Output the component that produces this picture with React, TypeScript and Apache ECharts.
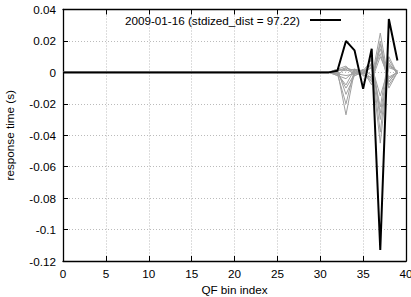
import React, { useEffect, useRef } from "react";
import * as echarts from "echarts";

const xIndex: number[] = Array.from({ length: 40 }, (_, i) => i);
const legendName = "2009-01-16 (stdized_dist = 97.22)";
// values for bins 31..39 (earlier bins are 0)
const blackTail = [0, 0.001, 0.02, 0.014, -0.0105, 0.015, -0.113, 0.034, 0.0076];
const grayTails: number[][] = [
  [0, 0.001, -0.027, 0.001, 0, 0.003, -0.045, 0.005, 0],
  [0, -0.001, -0.02, 0.002, 0.001, -0.004, 0.025, -0.006, 0.001],
  [0, 0.002, -0.014, -0.002, 0, 0.006, -0.038, 0.008, -0.001],
  [0, -0.002, 0.003, 0.001, -0.001, -0.006, 0.02, -0.008, 0],
  [0, 0.001, 0.002, -0.001, 0.001, 0.008, -0.03, 0.004, 0.001],
  [0, -0.001, -0.008, 0.002, -0.002, -0.003, 0.015, -0.004, 0],
  [0, 0.002, 0.004, -0.002, 0, 0.005, -0.022, 0.01, -0.001],
  [0, -0.002, -0.004, 0.001, 0.001, -0.008, 0.018, -0.01, 0],
  [0, 0.001, 0.003, 0, -0.001, 0.004, -0.015, 0.003, 0.001],
  [0, -0.001, -0.002, -0.001, 0, -0.005, 0.01, -0.003, 0],
  [0, 0.002, 0.001, 0.002, -0.001, 0.009, -0.026, 0.006, -0.001],
  [0, 0, -0.01, -0.001, 0.002, -0.002, 0.012, -0.006, 0.001],
];

function build(tail: number[]): number[][] {
  return xIndex.map((x) => [x, x < 31 ? 0 : tail[x - 31]]);
}

const FONT = "Liberation Sans, Arial, Helvetica, sans-serif";
const FS = 11.7;

export default function App() {
  const ref = useRef<HTMLDivElement>(null);
  useEffect(() => {
    if (!ref.current) return;
    const chart = echarts.init(ref.current, undefined, { renderer: "svg" });
    const grid = { left: 63, right: 5, top: 9.5, bottom: 36, containLabel: false, outerBoundsMode: "none" };
    const gridLine = { show: true, lineStyle: { color: "#bbb", type: [1, 2] as any, width: 1 } };
    chart.setOption({
      animation: false,
      backgroundColor: "#fff",
      grid,
      legend: {
        data: [legendName],
        right: 65,
        top: 9,
        align: "right",
        icon: "rect",
        itemWidth: 31,
        itemHeight: 2,
        textStyle: { fontFamily: FONT, fontSize: FS, color: "#000", padding: [0, 5, 0, 0] },
      },
      xAxis: [
        {
          type: "value",
          min: 0,
          max: 40,
          interval: 5,
          name: "QF bin index",
          nameLocation: "middle",
          nameGap: 22,
          nameTextStyle: { fontFamily: FONT, fontSize: FS, color: "#000" },
          axisLine: { show: true, onZero: false, lineStyle: { color: "#000", width: 1.3 } },
          axisTick: { show: true, inside: true, length: 5, lineStyle: { color: "#000" } },
          axisLabel: { fontFamily: FONT, fontSize: FS, color: "#000", margin: 6 },
          splitLine: gridLine,
        },
        {
          type: "value",
          position: "top",
          min: 0,
          max: 40,
          interval: 5,
          axisLine: { show: true, onZero: false, lineStyle: { color: "#000", width: 1.3 } },
          axisTick: { show: true, inside: true, length: 5, lineStyle: { color: "#000" } },
          axisLabel: { show: false },
          splitLine: { show: false },
        },
      ],
      yAxis: [
        {
          type: "value",
          min: -0.12,
          max: 0.04,
          interval: 0.02,
          name: "response time (s)",
          nameLocation: "middle",
          nameGap: 48,
          nameTextStyle: { fontFamily: FONT, fontSize: FS, color: "#000" },
          axisLine: { show: true, onZero: false, lineStyle: { color: "#000", width: 1.3 } },
          axisTick: { show: true, inside: true, length: 5, lineStyle: { color: "#000" } },
          axisLabel: {
            fontFamily: FONT,
            fontSize: FS,
            color: "#000",
            margin: 7,
            formatter: (v: number) => String(Number(v.toFixed(2))),
          },
          splitLine: gridLine,
        },
        {
          type: "value",
          position: "right",
          min: -0.12,
          max: 0.04,
          interval: 0.02,
          axisLine: { show: true, onZero: false, lineStyle: { color: "#000", width: 1.3 } },
          axisTick: { show: true, inside: true, length: 5, lineStyle: { color: "#000" } },
          axisLabel: { show: false },
          splitLine: { show: false },
        },
      ],
      series: [
        ...grayTails.map((t, i) => ({
          type: "line",
          name: "g" + i,
          data: build(t),
          showSymbol: false,
          silent: true,
          lineStyle: { color: "#a0a0a0", width: 1 },
          itemStyle: { color: "#a0a0a0" },
        })),
        {
          type: "line",
          name: legendName,
          data: build(blackTail),
          showSymbol: false,
          lineStyle: { color: "#000", width: 2 },
          itemStyle: { color: "#000" },
          z: 5,
        },
      ],
    });
    return () => chart.dispose();
  }, []);
  return <div ref={ref} style={{ width: 411, height: 297, position: "absolute", left: 0, top: 0 }} />;
}
